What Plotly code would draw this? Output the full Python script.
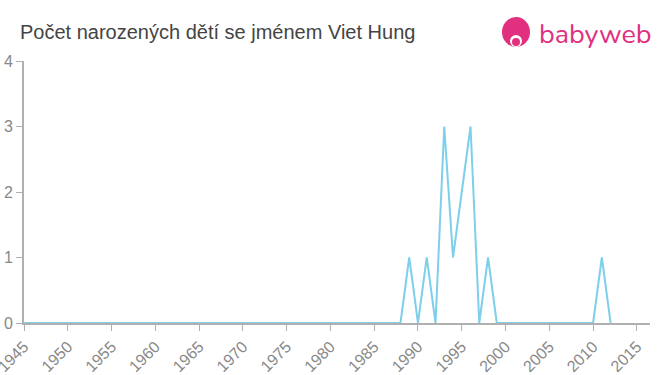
import plotly.graph_objects as go

years = list(range(1945, 2013))
nonzero = {1989: 1, 1991: 1, 1993: 3, 1994: 1, 1995: 2, 1996: 3, 1998: 1, 2011: 1}
counts = [nonzero.get(y, 0) for y in years]

title_text = "Počet narozených dětí se jménem Viet Hung"
x_ticks = list(range(1945, 2016, 5))
y_ticks = [0, 1, 2, 3, 4]

L, R, T, B = 24, 10, 61, 52
PW, PH = 660 - L - R, 375 - T - B

def px(x):
    return (x - L) / PW

def py(y):
    return (375 - B - y) / PH

fig = go.Figure()
fig.add_trace(go.Scatter(x=years, y=counts, mode="lines",
                         line=dict(color="#7dcfea", width=2), hoverinfo="skip"))

fig.update_layout(
    width=660, height=375,
    margin=dict(l=L, r=R, t=T, b=B, autoexpand=False),
    paper_bgcolor="white", plot_bgcolor="white",
    showlegend=False,
    font=dict(family="Liberation Sans, Arial, sans-serif", color="#888"),
    title=dict(text=title_text, x=20/660, xanchor="left", y=1 - 32/375, yanchor="middle",
               font=dict(size=20, color="#444")),
)
fig.update_xaxes(range=[1945, 2016.5], tickvals=x_ticks, ticktext=[str(t) for t in x_ticks],
                 tickangle=-45, showgrid=False, zeroline=False, automargin=False,
                 ticklabeloverflow="allow",
                 showline=True, linecolor="#b0b0b0", linewidth=2,
                 ticks="outside", ticklen=6, tickcolor="#b0b0b0",
                 tickfont=dict(size=16, color="#888"))
fig.update_yaxes(range=[0, 4], tickvals=y_ticks, showgrid=False, zeroline=False, automargin=False,
                 ticklabeloverflow="allow",
                 showline=True, linecolor="#b0b0b0", linewidth=2,
                 ticks="outside", ticklen=6, tickcolor="#b0b0b0",
                 tickfont=dict(size=16, color="#888"))

# logo
fig.add_shape(type="circle", xref="paper", yref="paper",
              x0=px(502), x1=px(530), y0=py(47), y1=py(17),
              fillcolor="#e0307f", line=dict(width=0), layer="above")
fig.add_shape(type="circle", xref="paper", yref="paper",
              x0=px(510), x1=px(522), y0=py(47), y1=py(35),
              fillcolor="white", line=dict(width=0), layer="above")
fig.add_shape(type="circle", xref="paper", yref="paper",
              x0=px(512), x1=px(520), y0=py(46), y1=py(38),
              fillcolor="#e0307f", line=dict(width=0), layer="above")
fig.add_annotation(text="babyweb", xref="paper", yref="paper",
                   x=px(537), y=py(34), xanchor="left", yanchor="middle",
                   showarrow=False, font=dict(size=27, color="#e0307f",
                                              family="Nunito, Lato, sans-serif"))

fig.write_html("out.html")
